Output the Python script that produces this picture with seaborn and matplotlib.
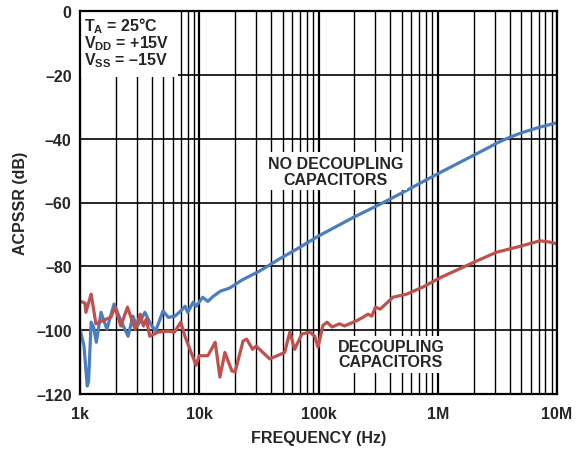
import matplotlib
matplotlib.use("Agg")
import matplotlib.pyplot as plt
import matplotlib.ticker as mticker
from matplotlib.patches import Rectangle
import numpy as np
import pandas as pd
import seaborn as sns

# Supply rejection without decoupling capacitors (frequency in Hz, level in dB)
no_decap_freq = [1.0e3, 1.08e3, 1.15e3, 1.18e3, 1.24e3, 1.3e3, 1.37e3, 1.5e3, 1.68e3,
                 1.93e3, 2.2e3, 2.53e3, 2.78e3, 3.0e3, 3.5e3, 3.9e3, 4.3e3, 4.97e3,
                 5.5e3, 6.25e3, 7.0e3, 7.6e3, 8.0e3, 8.9e3, 9.4e3, 10.7e3, 11.8e3,
                 13e3, 15e3, 18e3, 22.8e3, 32e3, 47e3, 70e3, 100e3, 200e3, 330e3,
                 500e3, 1.0e6, 2.0e6, 2.6e6, 3.2e6, 4.0e6, 5.0e6, 7.0e6, 10e6]
no_decap_db = [-99.7, -105.0, -117.5, -116.0, -97.5, -99.0, -103.8, -94.4, -99.7,
               -91.8, -97.0, -101.9, -95.6, -99.0, -94.4, -98.0, -100.3, -94.0,
               -96.0, -95.6, -94.0, -92.5, -94.4, -91.2, -92.5, -89.7, -91.0,
               -89.5, -87.8, -86.8, -84.3, -81.5, -77.7, -74.0, -70.5, -64.5, -60.5,
               -57.0, -51.0, -45.2, -43.0, -41.2, -39.6, -38.2, -36.5, -35.0]

# Supply rejection with decoupling capacitors
decap_freq = [1.0e3, 1.1e3, 1.12e3, 1.24e3, 1.36e3, 1.82e3, 1.96e3, 2.2e3, 2.5e3,
              2.9e3, 3.2e3, 3.4e3, 3.6e3, 3.85e3, 4.5e3, 5.5e3, 6.2e3, 7.0e3, 7.6e3,
              9.4e3, 10e3, 11.8e3, 13.6e3, 14.9e3, 16.4e3, 18.8e3, 20e3, 23.3e3,
              25e3, 28e3, 30e3, 39e3, 52e3, 57.5e3, 63e3, 72.6e3, 84.7e3, 93e3,
              99e3, 109e3, 118e3, 130e3, 150e3, 165e3, 210e3, 235e3, 260e3, 280e3,
              300e3, 330e3, 420e3, 550e3, 750e3, 1.07e6, 2.1e6, 3.1e6, 4.6e6,
              7.2e6, 8.7e6, 10e6]
decap_db = [-90.9, -91.5, -94.4, -88.7, -98.0, -95.9, -92.8, -98.7, -92.8,
            -99.7, -95.0, -98.7, -96.5, -101.9, -100.6, -100.3, -100.6, -97.5, -102.0,
            -111.0, -108.0, -108.0, -103.8, -114.7, -107.0, -112.8, -113.0, -103.4,
            -102.8, -106.0, -105.0, -109.0, -107.0, -100.6, -106.0, -101.2, -100.6, -101.9,
            -105.3, -98.5, -97.5, -99.0, -98.0, -98.7, -97.0, -96.0, -95.0, -95.6,
            -92.8, -93.4, -89.7, -88.7, -86.5, -83.4, -78.4, -75.6, -74.0,
            -72.0, -72.4, -73.0]

x_ticks = [1e3, 1e4, 1e5, 1e6, 1e7]
x_tick_labels = ["1k", "10k", "100k", "1M", "10M"]
y_ticks = [0, -20, -40, -60, -80, -100, -120]
y_tick_labels = ["0", "–20", "–40", "–60", "–80", "–100", "–120"]

blue = "#4a7ebf"
red = "#c0504d"

sns.set_theme(style="white")
plt.rcParams["font.family"] = ["Liberation Sans", "DejaVu Sans"]
plt.rcParams["font.weight"] = "bold"
plt.rcParams["mathtext.fontset"] = "custom"
plt.rcParams["mathtext.rm"] = "Liberation Sans:bold"
plt.rcParams["mathtext.it"] = "Liberation Sans:bold"
plt.rcParams["mathtext.bf"] = "Liberation Sans:bold"

fig = plt.figure(figsize=(5.77, 4.52), dpi=100)
ax = fig.add_axes([80 / 577, 1 - 395 / 452, 477 / 577, 383 / 452])

df_a = pd.DataFrame({"freq": no_decap_freq, "db": no_decap_db})
df_b = pd.DataFrame({"freq": decap_freq, "db": decap_db})
sns.lineplot(data=df_a, x="freq", y="db", ax=ax, color=blue, lw=2.3,
             estimator=None, sort=False, zorder=4)
sns.lineplot(data=df_b, x="freq", y="db", ax=ax, color=red, lw=2.3,
             estimator=None, sort=False, zorder=4)

ax.set_xscale("log")
ax.set_xlim(1e3, 1e7)
ax.set_ylim(-120, 0)

ax.xaxis.set_major_locator(mticker.FixedLocator(x_ticks))
ax.xaxis.set_minor_locator(mticker.LogLocator(base=10, subs=np.arange(2, 10)))
ax.xaxis.set_minor_formatter(mticker.NullFormatter())
ax.set_xticks(x_ticks)
ax.set_xticklabels(x_tick_labels)
ax.set_yticks(y_ticks)
ax.set_yticklabels(y_tick_labels)

ax.grid(True, which="major", axis="x", color="black", lw=1.6)
ax.grid(True, which="minor", axis="x", color="black", lw=1.0)
ax.grid(True, which="major", axis="y", color="black", lw=1.2)
ax.set_axisbelow(True)

ax.tick_params(axis="x", which="both", length=0, labelsize=11.5, pad=9)
ax.tick_params(axis="y", which="both", length=0, labelsize=11.5, pad=6)
for lab in ax.get_xticklabels() + ax.get_yticklabels():
    lab.set_fontweight("bold")

for s in ax.spines.values():
    s.set_color("black")
    s.set_linewidth(1.6)
    s.set_zorder(6)

ax.set_xlabel("FREQUENCY (Hz)", fontsize=11.5, fontweight="bold", labelpad=6)
ax.set_ylabel("ACPSSR (dB)", fontsize=11.5, fontweight="bold", labelpad=6)

# white panel behind the test conditions
ax.add_patch(Rectangle((1e3, -20.6), 6.6e3 - 1e3, 20.6, facecolor="white",
                       edgecolor="none", zorder=3))
conditions = ["T$_{\\rm A}$ = 25°C", "V$_{\\rm DD}$ = +15V", "V$_{\\rm SS}$ = –15V"]
for i, line in enumerate(conditions):
    ax.text(1.08e3, -6.0 - 5.3 * i, line, ha="left", va="baseline",
            fontsize=11.5, fontweight="bold", zorder=5)

box = dict(facecolor="white", edgecolor="none", pad=2.5)
ax.text(1.40e5, -50.2, "NO DECOUPLING\nCAPACITORS", ha="center", va="center",
        fontsize=11.5, fontweight="bold", linespacing=1.05, zorder=5, bbox=box)
ax.text(4.05e5, -107.5, "DECOUPLING\nCAPACITORS", ha="center", va="center",
        fontsize=11.5, fontweight="bold", linespacing=1.0, zorder=5, bbox=box)

fig.savefig("out.png", dpi=100, facecolor="white")
